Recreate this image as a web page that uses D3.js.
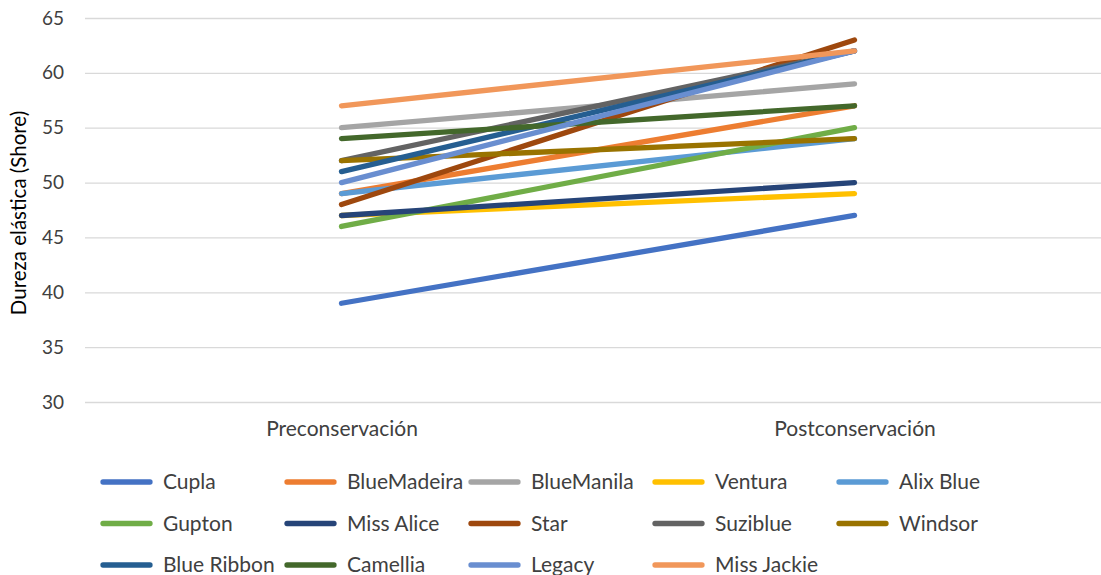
<!DOCTYPE html>
<html>
<head>
<meta charset="utf-8">
<script src="https://cdn.jsdelivr.net/npm/d3@7"></script>
<style>
  html, body { margin: 0; padding: 0; background: #fff; }
  svg { display: block; }
  text { font-family: "Lato", "Liberation Sans", sans-serif; fill: #404040; }
</style>
</head>
<body>
<svg id="chart" width="1101" height="575"></svg>
<script>
// Hardness readings per variety, before and after storage
const stages = ["Preconservación", "Postconservación"];
const varieties = ["Cupla", "BlueMadeira", "BlueManila", "Ventura", "Alix Blue",
  "Gupton", "Miss Alice", "Star", "Suziblue", "Windsor",
  "Blue Ribbon", "Camellia", "Legacy", "Miss Jackie"];
const preValues  = [39, 49, 55, 47, 49, 46, 47, 48, 52, 52, 51, 54, 50, 57];
const postValues = [47, 57, 59, 49, 54, 55, 50, 63, 62, 54, 62, 57, 62, 62];
const colors = ["#4472C4", "#ED7D31", "#A5A5A5", "#FFC000", "#5B9BD5",
  "#70AD47", "#264478", "#9E480E", "#636363", "#997300",
  "#255E91", "#43682B", "#698ED0", "#F1975A"];
const yTicks = [30, 35, 40, 45, 50, 55, 60, 65];
const yTitle = "Dureza elástica (Shore)";

const svg = d3.select("#chart");
const plot = { left: 85, right: 1111, top: 18, bottom: 402 };

const x = d3.scalePoint().domain(stages).range([plot.left, plot.right]).padding(0.5);
const y = d3.scaleLinear().domain([30, 65]).range([plot.bottom, plot.top]);

// Horizontal gridlines with value labels
const yAxis = d3.axisLeft(y).tickValues(yTicks).tickSize(-(plot.right - plot.left)).tickPadding(21);
const gy = svg.append("g").attr("transform", `translate(${plot.left},0)`).call(yAxis);
gy.select(".domain").remove();
gy.selectAll(".tick line").attr("stroke", "#d9d9d9").attr("stroke-width", 1.3);
gy.selectAll(".tick text").attr("font-size", 19).attr("fill", "#404040")
  .style("font-family", "Lato, 'Liberation Sans', sans-serif");

// Category labels
const xAxis = d3.axisBottom(x).tickSize(0).tickPadding(19);
const gx = svg.append("g").attr("transform", `translate(0,${plot.bottom})`).call(xAxis);
gx.select(".domain").remove();
gx.selectAll(".tick text").attr("font-size", 21).attr("fill", "#404040")
  .style("font-family", "Lato, 'Liberation Sans', sans-serif");

// Axis title
svg.append("text")
  .attr("transform", `translate(26,${(plot.top + plot.bottom) / 2 + 3}) rotate(-90)`)
  .attr("text-anchor", "middle")
  .attr("font-size", 20.5)
  .style("fill", "#000")
  .text(yTitle);

// One line per variety
const series = varieties.map((name, i) => ({
  name, color: colors[i], values: [preValues[i], postValues[i]]
}));
const line = d3.line().x((d, i) => x(stages[i])).y(d => y(d));
svg.append("g").selectAll("path").data(series).join("path")
  .attr("d", d => line(d.values))
  .attr("fill", "none")
  .attr("stroke", d => d.color)
  .attr("stroke-width", 5.3)
  .attr("stroke-linecap", "round");

// Legend: five columns, three rows
const legend = svg.append("g");
const item = legend.selectAll("g").data(series).join("g")
  .attr("transform", (d, i) => `translate(${103 + (i % 5) * 184},${482 + Math.floor(i / 5) * 41.5})`);
item.append("line")
  .attr("x1", 0).attr("x2", 47)
  .attr("stroke", d => d.color).attr("stroke-width", 5.3).attr("stroke-linecap", "round");
item.append("text")
  .attr("x", 60).attr("dy", "0.35em")
  .attr("font-size", 21)
  .text(d => d.name);
</script>
</body>
</html>
